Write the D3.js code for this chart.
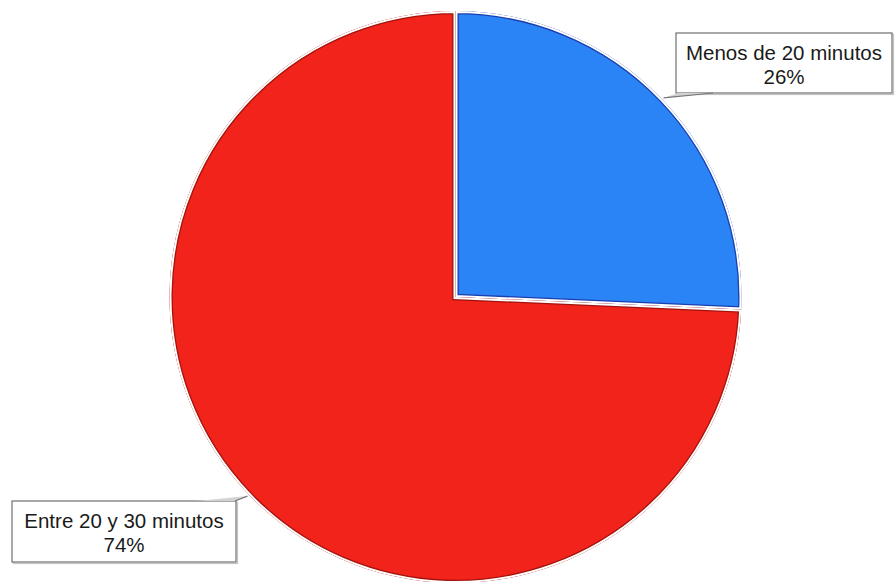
<!DOCTYPE html>
<html>
<head>
<meta charset="utf-8">
<script src="https://cdn.jsdelivr.net/npm/d3@7"></script>
<style>
  html, body { margin: 0; padding: 0; background: #fff; }
  svg { display: block; }
  text { font-family: "Liberation Sans", Arial, sans-serif; fill: #1a1a1a; }
</style>
</head>
<body>
<svg id="chart" width="895" height="582"></svg>
<script>
// Share of respondents by time spent (percent)
const categories = ["Menos de 20 minutos", "Entre 20 y 30 minutos"];
const shares = [25.7, 74.3];
const fills = ["#2a84f5", "#f2231a"];
const edges = ["#1b3fb0", "#a3140e"];

const W = 895, H = 582;
const cx = 455.5, cy = 297, R = 286;
const gapW = 4;          // white separation between slices
const edgeW = 1.3;       // dark outline inside each slice

const svg = d3.select("#chart");

const pie = d3.pie().sort(null).value(d => d.value);
const arcs = pie(categories.map((c, i) => ({ name: c, value: shares[i], i })));
const arc = d3.arc().innerRadius(0).outerRadius(R);

const defs = svg.append("defs");
const g = svg.append("g").attr("transform", `translate(${cx},${cy})`);

arcs.forEach((a, k) => {
  const id = "clip" + k;
  defs.append("clipPath").attr("id", id).append("path").attr("d", arc(a));
  const sg = g.append("g").attr("clip-path", `url(#${id})`);
  sg.append("path").attr("d", arc(a)).attr("fill", fills[a.data.i]);
  // dark edge then white band, both clipped to the slice itself
  sg.append("path").attr("d", arc(a)).attr("fill", "none")
    .attr("stroke", edges[a.data.i]).attr("stroke-width", gapW + 2 * edgeW)
    .attr("stroke-linejoin", "miter");
  sg.append("path").attr("d", arc(a)).attr("fill", "none")
    .attr("stroke", "#fff").attr("stroke-width", gapW)
    .attr("stroke-linejoin", "miter");
});

// Callout boxes
const boxes = [
  { x: 676, y: 33, w: 216, h: 60, tail: [678, 713], side: "bottom" },
  { x: 12, y: 501, w: 224, h: 61, tail: [197, 235], side: "top" }
];
const fmt = v => Math.round(v) + "%";

arcs.forEach((a, k) => {
  const b = boxes[k];
  const mid = (a.startAngle + a.endAngle) / 2;
  const rr = R + 2;
  const ax = cx + rr * Math.sin(mid), ay = cy - rr * Math.cos(mid);
  const ey = b.side === "bottom" ? b.y + b.h : b.y;

  // shadow
  svg.append("rect").attr("x", b.x + 1.5).attr("y", b.y + 1.5)
    .attr("width", b.w).attr("height", b.h)
    .attr("fill", "none").attr("stroke", "#c4c4c4").attr("stroke-width", 1.2);
  svg.append("rect").attr("x", b.x).attr("y", b.y)
    .attr("width", b.w).attr("height", b.h)
    .attr("fill", "#fff").attr("stroke", "#7a7a7a").attr("stroke-width", 1.3);

  // tail
  svg.append("path")
    .attr("d", `M${ax},${ay}L${b.tail[0]},${ey}L${b.tail[1]},${ey}Z`)
    .attr("fill", "#d2d2d2").attr("stroke", "none");
  svg.append("line")
    .attr("x1", ax).attr("y1", ay).attr("x2", b.tail[1]).attr("y2", ey)
    .attr("stroke", "#777").attr("stroke-width", 1.2);

  const tx = b.x + b.w / 2;
  const t = svg.append("text").attr("text-anchor", "middle")
    .attr("font-size", 20.5);
  t.append("tspan").attr("x", tx).attr("y", b.y + 27).text(a.data.name);
  t.append("tspan").attr("x", tx).attr("y", b.y + 51).text(fmt(a.data.value));
});
</script>
</body>
</html>
